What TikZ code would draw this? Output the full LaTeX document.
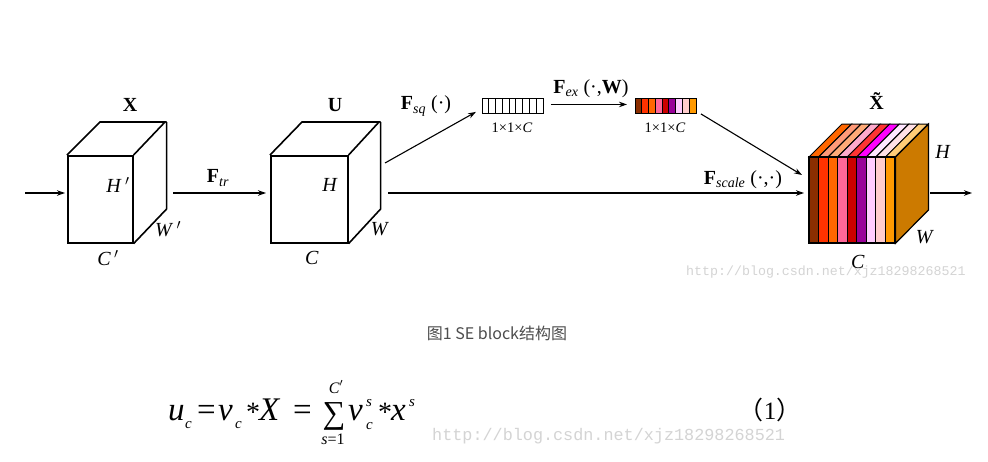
\documentclass[tikz,border=0pt]{standalone}
\usepackage{fontspec}
\setmainfont{Liberation Serif}
\newfontfamily\cjk{Noto Sans CJK SC}
\newfontfamily\wmfont{Liberation Mono}
\usetikzlibrary{arrows.meta,calc}
\definecolor{fa}{HTML}{8B2E00}
\definecolor{fb}{HTML}{FF3300}
\definecolor{fc}{HTML}{FF6600}
\definecolor{fd}{HTML}{FF6699}
\definecolor{fe}{HTML}{CC0000}
\definecolor{ff}{HTML}{990099}
\definecolor{fg}{HTML}{FFCCFF}
\definecolor{fh}{HTML}{FFCCCC}
\definecolor{fi}{HTML}{FF9900}
\definecolor{ta}{HTML}{FF6600}
\definecolor{tb}{HTML}{FF9977}
\definecolor{tc}{HTML}{FFAA77}
\definecolor{td}{HTML}{FFAACC}
\definecolor{te}{HTML}{FF3333}
\definecolor{tf}{HTML}{FF00FF}
\definecolor{tg}{HTML}{FFE6FF}
\definecolor{th}{HTML}{FFE0E6}
\definecolor{ti}{HTML}{FFCC77}
\definecolor{sidec}{HTML}{CC7A00}
\definecolor{capc}{HTML}{4D4D4D}
\definecolor{wmc}{HTML}{D4D4D4}
\begin{document}
\begin{tikzpicture}[x=1pt,y=-1pt,
  edge/.style={line width=1.6pt, line join=miter},
  face/.style={draw, line width=1.6pt, inner sep=0, anchor=north west},
  arr/.style={line width=1.1pt, -{Stealth[length=8pt,width=5.5pt]}},
  lbl/.style={font=\fontsize{20}{24}\selectfont, inner sep=0},
  dim/.style={font=\fontsize{14.5}{17}\selectfont, inner sep=0},
  wm/.style={text=wmc, inner sep=0},
  big/.style={font=\fontsize{33}{38}\selectfont, inner sep=0, anchor=base west},
  sml/.style={font=\fontsize{15}{18}\selectfont\itshape, inner sep=0, anchor=base west}]
\useasboundingbox (0,0) rectangle (988,461);
\fill[white] (0,0) rectangle (988,461);

% cube X
\node[face, minimum width=65pt, minimum height=87pt] (X) at (67,155) {};
\draw[edge] (X.north west) -- ++(33,-33) -- ++(65,0) -- (X.north east)
  (X.north east) ++(33,-33) -- ++(0,87) -- (X.south east);
% cube U
\node[face, minimum width=77pt, minimum height=87pt] (U) at (270,155) {};
\draw[edge] (U.north west) -- ++(32,-33) -- ++(77,0) -- (U.north east)
  (U.north east) ++(32,-33) -- ++(0,87) -- (U.south east);

% output cube
\node[inner sep=0, minimum width=86pt, minimum height=86pt, anchor=north west] (Xt) at (809,157) {};
\filldraw[fill=sidec, draw=black, line width=1.2pt, line join=miter]
  (Xt.north east) -- ++(33,-33) -- ++(0,86) -- (Xt.south east) -- cycle;
\foreach \fcol/\tcol [count=\i from 0] in {fa/ta,fb/tb,fc/tc,fd/td,fe/te,ff/tf,fg/tg,fh/th,fi/ti}{
  \pgfmathsetmacro\xa{809+\i*86/9}
  \pgfmathsetmacro\xb{809+(\i+1)*86/9}
  \filldraw[fill=\tcol, draw=black, line width=1pt, line join=miter]
    (\xa,157) -- (\xa+33,124) -- (\xb+33,124) -- (\xb,157) -- cycle;
  \filldraw[fill=\fcol, draw=black, line width=1.2pt]
    (\xa,157) rectangle (\xb,243);
}

% vectors
\node[draw, line width=0.9pt, inner sep=0, minimum width=61pt, minimum height=15pt, anchor=north west] (v1) at (482,98) {};
\foreach \i in {1,...,8}{
  \draw[line width=0.9pt] ($(v1.north west)+(\i*61/9,0)$) -- ($(v1.south west)+(\i*61/9,0)$);
}
\foreach \fcol [count=\i from 0] in {fa,fb,fc,fd,fe,ff,fg,fh,fi}{
  \filldraw[fill=\fcol, draw=black, line width=0.8pt] (635+\i*61/9,98) rectangle (635+\i*61/9+61/9,113);
}
\node[draw, line width=0.9pt, inner sep=0, minimum width=61pt, minimum height=15pt, anchor=north west] (v2) at (635,98) {};

% connectors
\coordinate (in) at (25,193);
\coordinate (xo) at (173,193);
\coordinate (uo) at (388,193);
\coordinate (sqs) at (385,163);
\coordinate (out) at (972,193);
\draw[arr] (in) -- ($(X.west |- in)+(-2,0)$);
\draw[arr] (xo) -- ($(U.west |- in)+(-4,0)$);
\draw[arr] (uo) -- ($(Xt.west |- in)+(-5,0)$);
\draw[arr] (sqs) -- ($(v1.south west)+(-6,-2)$);
\draw[arr] ([xshift=7pt,yshift=1.5pt]v1.east) -- ([xshift=-8pt,yshift=1.5pt]v2.west);
\draw[arr] ([xshift=4pt]v2.south east) -- ($(Xt.north west)+(-7,18)$);
\draw[arr] ($(Xt.east |- in)+(35,0)$) -- (out);

% labels
\node[lbl] (lX) at (130,105) {\textbf{X}};
\node[lbl] (lU) at (335,105) {\textbf{U}};
\node[lbl] (lXt) at (880,101) {\textbf{\~{X}}};
\node[lbl] (lH1) at (118,185) {\textit{H}\,$'$};
\node[lbl] (lW1) at (168,229) {\textit{W}\,$'$};
\node[lbl] (lC1) at (108,258) {\textit{C}\,$'$};
\node[lbl] (lFtr) at (218,178) {\textbf{F}\textsubscript{\itshape tr}};
\node[lbl] (lH2) at (330,185) {\textit{H}};
\node[lbl] (lW2) at (380,229) {\textit{W}};
\node[lbl] (lC2) at (312,258) {\textit{C}};
\node[lbl] (lFsq) at (426,106) {\textbf{F}\textsubscript{\itshape sq} (·)};
\node[lbl] (lFex) at (591,89) {\textbf{F}\textsubscript{\itshape ex} (·,\textbf{W})};
\node[lbl] (lFsc) at (743,180) {\textbf{F}\textsubscript{\itshape scale} (·,·)};
\node[dim] (d1) at (512,128) {1×1×\textit{C}};
\node[dim] (d2) at (665,128) {1×1×\textit{C}};
\node[lbl] (lH3) at (943,152) {\textit{H}};
\node[lbl] (lW3) at (925,237) {\textit{W}};
\node[lbl] (lC3) at (858,262) {\textit{C}};

% watermarks
\node[wm, font=\wmfont\fontsize{13.3}{15}\selectfont, anchor=west] (wm1) at (686,272) {http://blog.csdn.net/xjz18298268521};
\node[wm, font=\wmfont\fontsize{16.8}{19}\selectfont, anchor=west] (wm2) at (432,436) {http://blog.csdn.net/xjz18298268521};

% caption
\node[inner sep=0, text=capc, font=\cjk\fontsize{16}{19}\selectfont] (cap) at (497,333) {图1 SE block结构图};

% formula
\node[big] (fu) at (168,420) {\itshape u};
\node[sml] (fuc) at (185,428) {c};
\node[big] (feq1) at (197,420) {=};
\node[big] (fv) at (218,420) {\itshape v};
\node[sml] (fvc) at (235,428) {c};
\node[big, font=\fontsize{28}{34}\selectfont] (fst1) at (246,421) {*};
\node[big] (fX) at (259,420) {\itshape X};
\node[big] (feq2) at (293,420) {=};
\node[inner sep=0, font=\fontsize{32}{38}\selectfont] (fsum) at (334,416) {∑};
\node[inner sep=0, font=\fontsize{16}{20}\selectfont] (fsup) at (336,387) {\textit{C}$'$};
\node[inner sep=0, font=\fontsize{16}{20}\selectfont] (fsub) at (333,439) {\textit{s}=1};
\node[big] (fv2) at (348,420) {\itshape v};
\node[sml] (fv2s) at (366,406) {s};
\node[sml] (fv2c) at (366,429) {c};
\node[big, font=\fontsize{28}{34}\selectfont] (fst2) at (378,421) {*};
\node[big] (fx) at (391,420) {\itshape x};
\node[sml] (fxs) at (409,406) {s};
\node[inner sep=0, anchor=base, font=\fontsize{25}{29}\selectfont] (eqn) at (770,419) {{\cjk （}1{\cjk ）}};
\end{tikzpicture}
\end{document}
